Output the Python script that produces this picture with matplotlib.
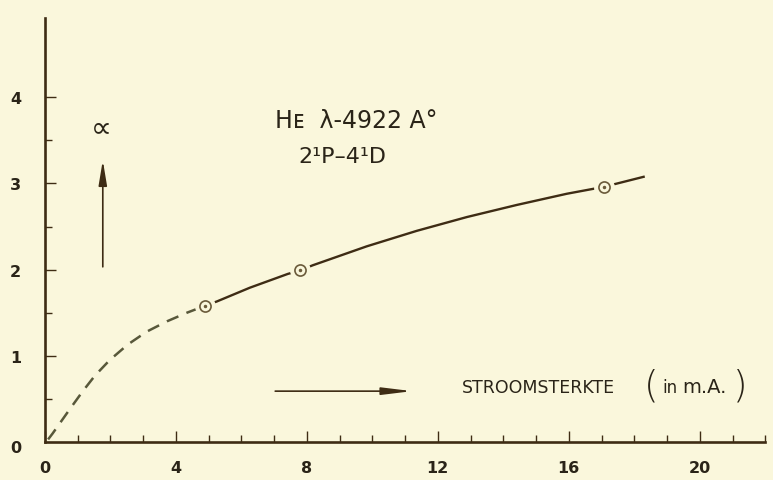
import matplotlib.pyplot as plt
from matplotlib.ticker import MultipleLocator, FixedLocator

# intensity ratio vs. discharge current, He 4922 line
dash_x = [0.1, 0.24, 0.76, 1.16, 1.53, 1.98, 2.53, 3.11, 3.73, 4.34, 4.89]
dash_y = [0.03, 0.10, 0.38, 0.59, 0.77, 0.95, 1.13, 1.28, 1.40, 1.50, 1.58]

curve_x = [4.89, 5.25, 6.26, 7.42, 7.79, 8.18, 9.83, 11.36, 12.89, 14.41,
           15.94, 17.07, 18.32]
curve_y = [1.58, 1.63, 1.79, 1.95, 1.99, 2.05, 2.27, 2.45, 2.61, 2.75,
           2.88, 2.96, 3.08]

meas_x = [4.89, 7.79, 17.07]
meas_y = [1.58, 1.99, 2.96]

bg = '#FAF7DC'
ink = '#3E2C14'
txt = '#2A2418'

plt.rcParams['font.family'] = ['DejaVu Sans']
fig = plt.figure(figsize=(7.73, 4.81), dpi=100, facecolor=bg)
ax = fig.add_axes([0.058, 0.079, 0.932, 0.896], facecolor=bg)

ax.plot(dash_x, dash_y, color='#58583A', lw=1.8, dashes=(5, 3.5))
ax.plot(curve_x, curve_y, color=ink, lw=1.7, solid_capstyle='butt')
# gaps in the line around each measured point
ax.plot(meas_x, meas_y, 'o', ms=14, mfc=bg, mec=bg, zorder=3)
ax.plot(meas_x, meas_y, 'o', ms=8, mfc='none', mec='#6A5A3A', mew=1.2, zorder=4)
ax.plot(meas_x, meas_y, '.', ms=3, color='#6A5A3A', zorder=5)

ax.set_xlim(0, 22)
ax.set_ylim(0, 5)
for s in ('top', 'right'):
    ax.spines[s].set_visible(False)
for s in ('left', 'bottom'):
    ax.spines[s].set_color(ink)
    ax.spines[s].set_linewidth(1.9)
ax.spines['left'].set_bounds(0, 4.92)

ax.xaxis.set_major_locator(MultipleLocator(4))
ax.xaxis.set_minor_locator(MultipleLocator(1))
ax.set_yticks([1, 2, 3, 4])
ax.yaxis.set_minor_locator(FixedLocator([0.5, 1.5, 2.5, 3.5]))
ax.tick_params(which='major', direction='in', length=8, width=1.0, color=ink,
               labelsize=11.5, labelcolor=txt)
ax.tick_params(which='minor', direction='in', length=5, width=1.0, color=ink)
ax.tick_params(axis='x', pad=13)
ax.tick_params(axis='y', pad=17)
for lab in ax.get_xticklabels() + ax.get_yticklabels():
    lab.set_fontweight('bold')

ax.text(-0.9, -0.06, '0', ha='center', va='center', fontsize=11.5,
        fontweight='bold', color=txt)

ax.annotate('', xy=(1.77, 3.3), xytext=(1.77, 2.0),
            arrowprops=dict(arrowstyle='-|>,head_length=1.5,head_width=0.25',
                            color=ink, lw=1.2))
ax.text(1.72, 3.65, '∝', ha='center', va='center', fontsize=21,
        color=txt)

ax.annotate('', xy=(11.3, 0.59), xytext=(6.95, 0.59),
            arrowprops=dict(arrowstyle='-|>,head_length=1.8,head_width=0.22',
                            color=ink, lw=1.2))
ax.text(12.72, 0.64, 'STROOMSTERKTE', ha='left', va='center', fontsize=12.5,
        color=txt)
ax.text(18.3, 0.66, '(', ha='left', va='center', fontsize=27,
        fontweight='light', color=txt)
ax.text(18.85, 0.64, 'in', ha='left', va='center', fontsize=12,
        color=txt)
ax.text(19.45, 0.64, 'm.A.', ha='left', va='center', fontsize=14,
        color=txt)
ax.text(21.0, 0.66, ')', ha='left', va='center', fontsize=27,
        fontweight='light', color=txt)

ax.text(9.5, 3.74, 'Hᴇ  λ-4922 A°', ha='center', va='center', fontsize=17,
        color=txt)
ax.text(9.1, 3.32, '2¹P–4¹D', ha='center', va='center', fontsize=16,
        color=txt)

fig.savefig('out.png', dpi=100, facecolor=bg)
